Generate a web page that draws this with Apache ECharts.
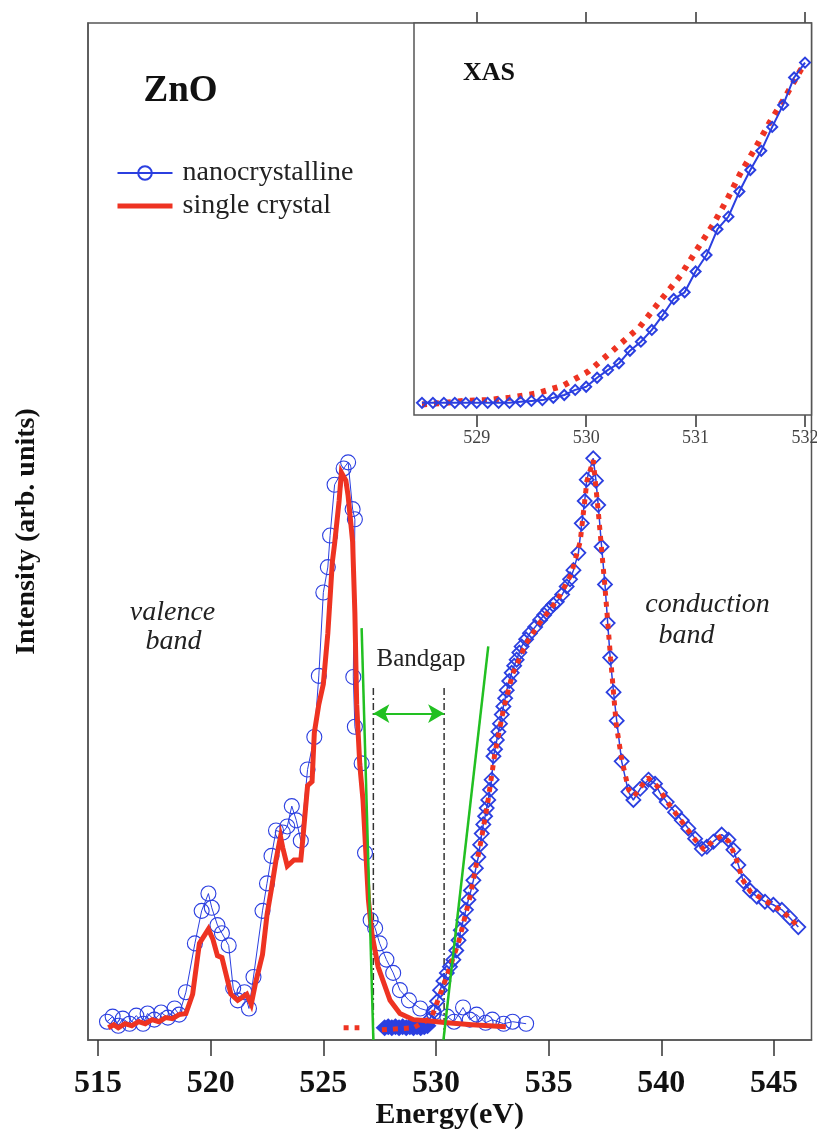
<!DOCTYPE html>
<html><head><meta charset="utf-8">
<script src="https://cdn.jsdelivr.net/npm/echarts@6/dist/echarts.min.js"></script>
<style>html,body{margin:0;padding:0;background:#fff}#c{width:817px;height:1131px}</style>
</head><body><div id="c"></div>
<script>
// ---------- data (energy in eV, intensity in arb. units) ----------
const mainTicks = [515, 520, 525, 530, 535, 540, 545];
const insetTicks = [529, 530, 531, 532];

const vbNano = [[515.4,1.8],[515.65,2.3],[515.9,1.4],[516.1,2.1],[516.4,1.6],[516.7,2.4],[517.0,1.6],[517.2,2.6],[517.5,2.0],[517.8,2.7],[518.1,2.2],[518.4,3.1],[518.6,2.5],[518.9,4.7],[519.3,9.5],[519.6,12.7],[519.9,14.4],[520.05,13.0],[520.3,11.3],[520.5,10.5],[520.8,9.3],[521.0,5.1],[521.2,3.9],[521.5,4.7],[521.7,3.1],[521.9,6.2],[522.3,12.7],[522.5,15.4],[522.7,18.1],[522.9,20.6],[523.2,20.4],[523.4,21.0],[523.6,23.0],[523.8,21.6],[524.0,19.6],[524.3,26.6],[524.6,29.8],[524.8,35.8],[525.0,44.0],[525.2,46.5],[525.3,49.6],[525.5,54.6],[525.9,56.2],[526.1,56.8],[526.3,52.2],[526.4,51.2],[526.33,35.7],[526.4,30.8],[526.7,27.2],[526.85,18.4],[527.1,11.8],[527.3,11.0],[527.5,9.5],[527.8,7.9],[528.1,6.6],[528.4,4.9],[528.8,3.9],[529.3,3.1],[529.9,2.7],[530.5,2.3],[530.8,1.8],[531.2,3.2],[531.5,2.0],[531.8,2.5],[532.2,1.7],[532.5,2.0],[533.0,1.6],[533.4,1.8],[534.0,1.6]];

const vbSingle = [[515.46,1.2],[515.7,1.5],[515.9,1.2],[516.2,1.6],[516.5,1.4],[516.8,1.8],[517.1,1.6],[517.4,2.0],[517.7,1.8],[518.0,2.2],[518.3,2.1],[518.6,2.5],[518.9,2.6],[519.2,4.5],[519.5,9.5],[519.9,10.9],[520.1,9.9],[520.3,8.3],[520.5,8.1],[520.9,4.5],[521.2,3.9],[521.6,4.5],[521.8,3.5],[522.0,5.7],[522.3,8.4],[522.5,12.3],[522.7,14.9],[522.9,17.7],[523.1,20.0],[523.2,18.9],[523.4,17.1],[523.7,17.7],[524.0,17.7],[524.1,20.0],[524.3,25.0],[524.5,25.4],[524.6,30.2],[524.8,33.0],[525.0,35.0],[525.2,40.0],[525.4,47.0],[525.5,48.8],[525.7,53.0],[525.8,55.8],[526.0,55.0],[526.1,53.5],[526.3,49.0],[526.4,42.0],[526.48,33.0],[526.62,27.0],[526.76,23.6],[527.0,13.8],[527.15,10.5],[527.43,7.2],[527.96,3.9],[528.4,2.6],[529.0,2.0],[529.6,1.9],[530.5,1.7],[531.6,1.5],[533.1,1.3]];

const cbNanoEdge = [[527.72,1.2],[527.88,1.3],[528.04,1.2],[528.2,1.3],[528.36,1.2],[528.52,1.3],[528.68,1.2],[528.84,1.3],[529.0,1.2],[529.16,1.3],[529.32,1.2],[529.48,1.3],[529.62,1.4]];

const cbNano = [[529.7,2.0],[529.9,2.8],[530.05,3.8],[530.18,4.9],[530.33,5.8],[530.48,6.6],[530.62,7.2],[530.77,7.9],[530.9,8.8],[531.0,9.8],[531.1,10.8],[531.21,11.8],[531.33,12.8],[531.44,13.8],[531.55,14.7],[531.66,15.7],[531.77,16.9],[531.88,18.0],[531.96,19.2],[532.03,20.3],[532.1,21.2],[532.18,22.0],[532.25,22.8],[532.32,23.6],[532.4,24.6],[532.47,25.6],[532.55,27.9],[532.62,28.6],[532.7,29.5],[532.77,30.3],[532.84,31.1],[532.92,32.0],[532.99,32.8],[533.07,33.6],[533.14,34.4],[533.25,35.3],[533.36,36.1],[533.47,36.8],[533.58,37.4],[533.7,38.1],[533.8,38.7],[534.0,39.4],[534.17,40.0],[534.4,40.6],[534.62,41.3],[534.8,41.8],[534.99,42.3],[535.2,42.8],[535.36,43.1],[535.6,43.8],[535.8,44.6],[535.95,45.3],[536.1,46.2],[536.32,47.9],[536.47,50.8],[536.6,53.0],[536.69,55.1],[536.98,57.2],[537.1,55.0],[537.2,52.6],[537.35,48.5],[537.5,44.8],[537.62,41.0],[537.73,37.6],[537.88,34.2],[538.02,31.4],[538.24,27.4],[538.54,24.4],[538.76,23.6],[539.06,24.7],[539.43,25.6],[539.72,25.2],[539.94,24.3],[540.24,23.4],[540.61,22.4],[540.91,21.6],[541.2,20.8],[541.5,19.8],[541.8,18.8],[542.02,19.0],[542.31,19.5],[542.68,20.2],[542.98,19.7],[543.2,18.7],[543.42,17.2],[543.64,15.6],[543.94,14.7],[544.24,14.1],[544.6,13.6],[544.97,13.3],[545.35,12.8],[545.71,12.0],[546.08,11.1]];

const cbSingle = [[525.9,1.2],[526.6,1.2],[526.9,'-'],[527.6,1.0],[529.0,1.2],[529.8,2.2],[530.1,4.0],[530.5,6.4],[531.0,9.6],[531.5,14.0],[532.0,19.6],[532.3,23.4],[532.6,28.0],[533.0,32.6],[533.4,36.0],[534.0,39.0],[534.6,41.0],[535.4,43.3],[536.0,45.8],[536.4,49.0],[536.7,55.0],[536.98,57.0],[537.2,52.0],[537.5,44.5],[537.75,37.5],[538.0,31.0],[538.25,27.5],[538.55,24.6],[538.8,24.0],[539.1,24.9],[539.4,25.8],[539.8,25.0],[540.3,23.3],[540.9,21.5],[541.5,19.7],[541.9,18.7],[542.3,19.6],[542.7,20.1],[543.0,19.5],[543.3,18.0],[543.6,15.8],[543.95,14.6],[544.6,13.7],[545.0,13.2],[545.4,12.6],[545.8,11.8],[546.1,11.0]];

const xasNano = [[528.5,3.1],[528.6,3.1],[528.7,3.1],[528.8,3.1],[528.9,3.1],[529.0,3.1],[529.1,3.1],[529.2,3.1],[529.3,3.1],[529.4,3.4],[529.5,3.6],[529.6,3.8],[529.7,4.4],[529.8,5.1],[529.9,6.4],[530.0,7.2],[530.1,9.5],[530.2,11.5],[530.3,13.2],[530.4,16.4],[530.5,18.7],[530.6,21.7],[530.7,25.5],[530.8,29.6],[530.9,31.3],[531.0,36.6],[531.1,40.8],[531.2,47.4],[531.3,50.6],[531.4,57.0],[531.5,62.5],[531.6,67.4],[531.7,73.5],[531.8,79.1],[531.9,86.1],[532.0,89.9]];

const xasSingle = [[528.5,2.7],[528.7,3.1],[528.89,3.6],[529.09,3.8],[529.3,4.4],[529.55,5.5],[529.79,7.5],[530.02,11.1],[530.25,16.6],[530.49,22.5],[530.67,28.9],[530.86,35.5],[531.01,42.1],[531.16,48.6],[531.29,55.1],[531.41,61.7],[531.55,68.3],[531.68,74.8],[531.82,81.2],[531.96,88.0],[532.0,89.5]];

const tangentVB = [[526.70,40.5],[527.22,0]];
const tangentCB = [[530.33,0],[532.32,38.7]];
const gapLeft = [[527.22,0],[527.22,34.9]];
const gapRight = [[530.36,0],[530.36,34.9]];
const gapArrow = [[527.22,32.1],[530.36,32.1]];

// ---------- styles ----------
const BLUE = '#2b3fe0', RED = '#ee3322', GREEN = '#22c022';
const SERIF = '"Liberation Serif","DejaVu Serif","Times New Roman",serif';

const chart = echarts.init(document.getElementById('c'), null, {renderer: 'canvas'});
chart.setOption({
  animation: false,
  backgroundColor: '#fff',
  grid: [
    {left: 88, top: 23, right: 5.5, bottom: 91, show: true, borderColor: '#555', borderWidth: 1.5, backgroundColor: 'transparent', outerBoundsMode: 'none'},
    {left: 414, top: 23, right: 5.5, bottom: 716, show: true, borderColor: '#555', borderWidth: 1.5, backgroundColor: '#fff', outerBoundsMode: 'none', z: 5}
  ],
  legend: {
    data: [
      {name: 'nanocrystalline'},
      {name: 'single crystal', itemStyle: {color: 'transparent', borderColor: 'transparent', borderWidth: 0},
       lineStyle: {color: RED, width: 5}}
    ],
    left: 115, top: 159, orient: 'vertical', padding: 0,
    itemWidth: 55, itemHeight: 17, itemGap: 5, selectedMode: false,
    textStyle: {fontFamily: SERIF, fontSize: 28, color: '#222', padding: [0, 0, 0, 5]}
  },
  xAxis: [
    {gridIndex: 0, type: 'value', min: 514.556, max: 546.665, position: 'bottom',
     axisLine: {show: true, lineStyle: {color: '#555', width: 1.5}},
     axisTick: {show: true, inside: false, length: 16, customValues: mainTicks, lineStyle: {color: '#333', width: 1.5}},
     axisLabel: {customValues: mainTicks, fontFamily: SERIF, fontWeight: 'bold', fontSize: 32, color: '#111', margin: 28},
     splitLine: {show: false},
     name: 'Energy(eV)', nameLocation: 'middle', nameGap: 60, nameMoveOverlap: false,
     nameTextStyle: {fontFamily: SERIF, fontWeight: 'bold', fontSize: 30, color: '#111'}},
    {gridIndex: 1, type: 'value', min: 528.427, max: 532.059, position: 'bottom',
     axisLine: {show: false},
     axisTick: {show: true, inside: false, length: 12, customValues: insetTicks, lineStyle: {color: '#333', width: 1.5}},
     axisLabel: {customValues: insetTicks, fontFamily: SERIF, fontSize: 18, color: '#444', margin: 14},
     splitLine: {show: false}},
    {gridIndex: 1, type: 'value', min: 528.427, max: 532.059, position: 'top',
     axisLine: {show: false},
     axisTick: {show: true, inside: false, length: 11, customValues: insetTicks, lineStyle: {color: '#333', width: 1.5}},
     axisLabel: {show: false}, splitLine: {show: false}}
  ],
  yAxis: [
    {gridIndex: 0, type: 'value', min: 0, max: 100,
     axisLine: {show: true, lineStyle: {color: '#555', width: 1.5}},
     axisTick: {show: false}, axisLabel: {show: false}, splitLine: {show: false},
     name: 'Intensity (arb. units)', nameLocation: 'middle', nameRotate: 90, nameGap: 47, nameMoveOverlap: false,
     nameTextStyle: {fontFamily: SERIF, fontWeight: 'bold', fontSize: 28, color: '#111'}},
    {gridIndex: 1, type: 'value', min: 0, max: 100,
     axisLine: {show: false}, axisTick: {show: false}, axisLabel: {show: false}, splitLine: {show: false}}
  ],
  graphic: [
    {type: 'text', x: 180.5, y: 91, style: {text: 'ZnO', font: 'bold 37px ' + SERIF, fill: '#111', textAlign: 'center', textVerticalAlign: 'middle'}},
    {type: 'text', x: 489, y: 73, z: 100, style: {text: 'XAS', font: 'bold 26px ' + SERIF, fill: '#111', textAlign: 'center', textVerticalAlign: 'middle'}},
    {type: 'text', x: 172.5, y: 613, style: {text: 'valence', font: 'italic 28px ' + SERIF, fill: '#222', textAlign: 'center', textVerticalAlign: 'middle'}},
    {type: 'text', x: 173.5, y: 642, style: {text: 'band', font: 'italic 28px ' + SERIF, fill: '#222', textAlign: 'center', textVerticalAlign: 'middle'}},
    {type: 'text', x: 707.5, y: 605, style: {text: 'conduction', font: 'italic 28px ' + SERIF, fill: '#222', textAlign: 'center', textVerticalAlign: 'middle'}},
    {type: 'text', x: 686.5, y: 636, style: {text: 'band', font: 'italic 28px ' + SERIF, fill: '#222', textAlign: 'center', textVerticalAlign: 'middle'}},
    {type: 'text', x: 421, y: 659, style: {text: 'Bandgap', font: '25px ' + SERIF, fill: '#222', textAlign: 'center', textVerticalAlign: 'middle'}}
  ],
  series: [
    {name: 'nanocrystalline', type: 'line', xAxisIndex: 0, yAxisIndex: 0, data: vbNano,
     symbol: 'circle', symbolSize: 15, showAllSymbol: true, z: 3,
     lineStyle: {color: BLUE, width: 1}, itemStyle: {color: 'transparent', borderColor: BLUE, borderWidth: 1.1}},
    {name: 'single crystal', type: 'line', xAxisIndex: 0, yAxisIndex: 0, data: vbSingle,
     symbol: 'none', z: 4, lineStyle: {color: RED, width: 5, join: 'miter'}, itemStyle: {color: RED}},
    {name: 'nc-edge', type: 'scatter', xAxisIndex: 0, yAxisIndex: 0, data: cbNanoEdge,
     symbol: 'diamond', symbolSize: [18, 17], z: 3, itemStyle: {color: BLUE, opacity: 1}},
    {name: 'nc-cb', type: 'line', xAxisIndex: 0, yAxisIndex: 0, data: cbNano,
     symbol: 'diamond', symbolSize: 14, showAllSymbol: true, z: 3,
     lineStyle: {color: BLUE, width: 1.5}, itemStyle: {color: 'transparent', borderColor: BLUE, borderWidth: 1.8}},
    {name: 'sc-cb', type: 'line', xAxisIndex: 0, yAxisIndex: 0, data: cbSingle,
     symbol: 'none', z: 4, connectNulls: false,
     lineStyle: {color: RED, width: 5, type: [5, 6], cap: 'butt'}},
    {name: 'tan-vb', type: 'line', xAxisIndex: 0, yAxisIndex: 0, data: tangentVB, symbol: 'none', z: 5,
     lineStyle: {color: GREEN, width: 2.5}},
    {name: 'tan-cb', type: 'line', xAxisIndex: 0, yAxisIndex: 0, data: tangentCB, symbol: 'none', z: 5,
     lineStyle: {color: GREEN, width: 2.5}},
    {name: 'gap-l', type: 'line', xAxisIndex: 0, yAxisIndex: 0, data: gapLeft, symbol: 'none', z: 2,
     lineStyle: {color: '#333', width: 1.5, type: [7, 3, 2, 3]}},
    {name: 'gap-r', type: 'line', xAxisIndex: 0, yAxisIndex: 0, data: gapRight, symbol: 'none', z: 2,
     lineStyle: {color: '#333', width: 1.5, type: [7, 3, 2, 3]}},
    {name: 'gap-arrow', type: 'line', xAxisIndex: 0, yAxisIndex: 0, data: [], symbol: 'none', z: 6,
     markLine: {silent: true, symbol: ['arrow', 'arrow'], symbolSize: [14, 16], label: {show: false},
       lineStyle: {color: GREEN, width: 2, type: 'solid'},
       data: [[{coord: gapArrow[0]}, {coord: gapArrow[1]}]]}},
    {name: 'xas-sc', type: 'line', xAxisIndex: 1, yAxisIndex: 1, data: xasSingle, symbol: 'none', z: 6,
     lineStyle: {color: RED, width: 6, type: [5, 7], cap: 'butt'}},
    {name: 'xas-nc', type: 'line', xAxisIndex: 1, yAxisIndex: 1, data: xasNano,
     symbol: 'diamond', symbolSize: 10, showAllSymbol: true, z: 7,
     lineStyle: {color: BLUE, width: 2}, itemStyle: {color: 'transparent', borderColor: BLUE, borderWidth: 2}}
  ]
});
</script></body></html>
